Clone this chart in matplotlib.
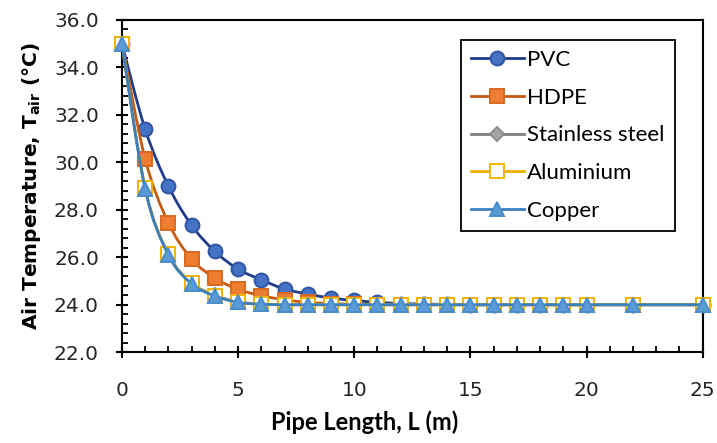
"""Air temperature along the pipe for different pipe materials."""
import numpy as np
import matplotlib
matplotlib.use("Agg")
import matplotlib.pyplot as plt
from matplotlib.path import Path
from matplotlib.patches import PathPatch
from matplotlib.lines import Line2D
from matplotlib.ticker import MultipleLocator

length = [0, 1, 2, 3, 4, 5, 6, 7, 8, 9, 10, 11, 12, 13, 14, 15, 16, 17, 18, 19, 20, 22, 25]

pvc = [35.0, 31.4, 29.0, 27.35, 26.25, 25.5, 25.05, 24.66, 24.45, 24.28, 24.18, 24.1,
       24.05, 24.03, 24.01, 24.0, 24.0, 24.0, 24.0, 24.0, 24.0, 24.0, 24.0]
hdpe = [35.0, 30.15, 27.45, 25.93, 25.12, 24.65, 24.38, 24.21, 24.1, 24.05, 24.02, 24.0,
        24.0, 24.0, 24.0, 24.0, 24.0, 24.0, 24.0, 24.0, 24.0, 24.0, 24.0]
steel = [35.0, 28.92, 26.14, 24.92, 24.4, 24.12, 24.03, 24.0, 24.0, 24.0, 24.0, 24.0,
         24.0, 24.0, 24.0, 24.0, 24.0, 24.0, 24.0, 24.0, 24.0, 24.0, 24.0]
aluminium = [35.0, 28.9, 26.12, 24.9, 24.38, 24.1, 24.02, 24.0, 24.0, 24.0, 24.0, 24.0,
             24.0, 24.0, 24.0, 24.0, 24.0, 24.0, 24.0, 24.0, 24.0, 24.0, 24.0]
copper = [35.0, 28.88, 26.1, 24.88, 24.37, 24.1, 24.02, 24.0, 24.0, 24.0, 24.0, 24.0,
          24.0, 24.0, 24.0, 24.0, 24.0, 24.0, 24.0, 24.0, 24.0, 24.0, 24.0]

names = ["PVC", "HDPE", "Stainless steel", "Aluminium", "Copper"]
series = [pvc, hdpe, steel, aluminium, copper]
line_col = ["#1f3c8a", "#c55a11", "#7f7f7f", "#f0b400", "#3a7fbf"]
face_col = ["#4472c4", "#ed7d31", "#a5a5a5", "white", "#5b9bd5"]
edge_col = ["#2f55a4", "#d9691f", "#8c8c8c", "#f0b400", "#4a8ccc"]
marks = ["o", "s", "D", "s", "^"]
msize = [10, 10, 7, 10, 10]


def smooth_path(x, y):
    # Excel style smoothed line: cubic Bezier through the points
    p = np.column_stack([x, y]).astype(float)
    verts = [p[0]]
    codes = [Path.MOVETO]
    n = len(p)
    for i in range(n - 1):
        p0 = p[i - 1] if i > 0 else p[i]
        p3 = p[i + 2] if i + 2 < n else p[i + 1]
        c1 = p[i] + (p[i + 1] - p0) / 6
        c2 = p[i + 1] - (p3 - p[i]) / 6
        verts += [c1, c2, p[i + 1]]
        codes += [Path.CURVE4] * 3
    return Path(verts, codes)


fig = plt.figure(figsize=(7.17, 4.43), dpi=100)
ax = fig.add_axes([0.170, 0.205, 0.810, 0.750])

handles = []
for k, (name, vals) in enumerate(zip(names, series)):
    ax.add_patch(PathPatch(smooth_path(length, vals), fill=False,
                           edgecolor=line_col[k], lw=2.0, zorder=2 + 2 * k,
                           capstyle="round"))
    ax.plot(length, vals, ls="none", marker=marks[k], ms=msize[k],
            mfc=face_col[k], mec=edge_col[k], mew=1.4, zorder=3 + 2 * k,
            clip_on=False)
    handles.append(Line2D([], [], color=line_col[k], lw=2.0, marker=marks[k],
                          ms=msize[k], mfc=face_col[k], mec=edge_col[k],
                          mew=1.4, label=name))

ax.set_xlim(0, 25)
ax.set_ylim(22, 36)
ax.xaxis.set_major_locator(MultipleLocator(5))
ax.xaxis.set_minor_locator(MultipleLocator(1))
ax.yaxis.set_major_locator(MultipleLocator(2))
ax.yaxis.set_minor_locator(MultipleLocator(0.4))
ax.yaxis.set_major_formatter(matplotlib.ticker.FormatStrFormatter("%.1f"))

for s in ax.spines.values():
    s.set_linewidth(1.5)
ax.tick_params(which="major", direction="inout", length=9, width=1.5,
               labelsize=14.5, labelcolor="#262626")
ax.tick_params(axis="x", which="major", pad=16)
ax.tick_params(axis="y", which="major", pad=12)
ax.tick_params(which="minor", direction="in", length=4, width=1.3)

ax.set_xlabel("Pipe Length, L (m)", fontsize=17, fontweight="bold",
              family="Lato")
ax.xaxis.set_label_coords(0.418, -0.175)
ax.set_ylabel(r"Air Temperature, T$_{\mathbf{air}}$ (°C)", fontsize=14.5,
              fontweight="bold", labelpad=8)

leg = ax.legend(handles=handles, loc="upper right",
                bbox_to_anchor=(0.952, 0.940), borderaxespad=0,
                fancybox=False, edgecolor="black", framealpha=1,
                handlelength=2.4, labelspacing=0.8, borderpad=0.45,
                handletextpad=0.15, prop={"family": "Lato", "size": 16})
leg.get_frame().set_linewidth(1.3)

fig.savefig("out.png", dpi=100)
